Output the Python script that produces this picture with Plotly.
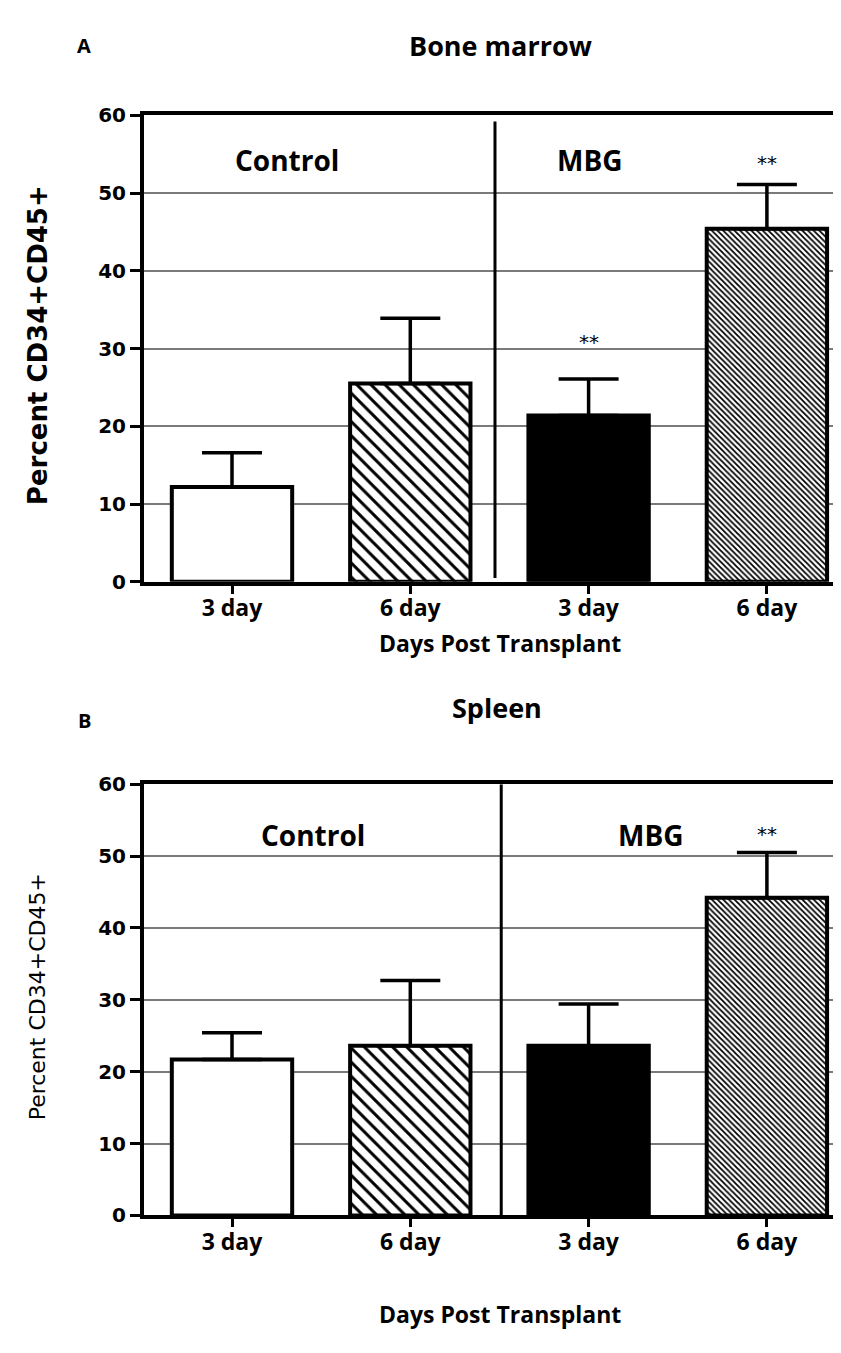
import plotly.graph_objects as go

categories = ["3 day", "6 day", "3 day", "6 day"]
positions = [0, 1, 2, 3]

bm_means = [12.2, 25.5, 21.4, 45.4]
bm_errors = [4.4, 8.4, 4.7, 5.7]

sp_means = [21.7, 23.6, 23.6, 44.2]
sp_errors = [3.7, 9.1, 5.8, 6.3]

bar_colors = ["white", "white", "black", "white"]
pattern_shapes = ["", "\\", "", "\\"]
pattern_sizes = [8, 10, 8, 4]
pattern_solid = [0.3, 0.3, 0.3, 0.45]

W, H = 841, 1353
X0 = 136
def fy(px):
    return 1 - px / H

fig = go.Figure()

def add_bars(means, errs, xa, ya):
    for i in range(len(means)):
        marker = dict(color=bar_colors[i], line=dict(color="black", width=4))
        if pattern_shapes[i]:
            marker["pattern"] = dict(shape=pattern_shapes[i], size=pattern_sizes[i],
                                     solidity=pattern_solid[i], fgcolor="black",
                                     fgopacity=1, fillmode="overlay")
        fig.add_trace(go.Bar(
            x=[positions[i]], y=[means[i]], width=0.675,
            xaxis=xa, yaxis=ya, marker=marker,
            error_y=dict(type="data", symmetric=False, array=[errs[i]],
                         arrayminus=[0], color="black",
                         thickness=3.5, width=30),
            showlegend=False, hoverinfo="skip"))

add_bars(bm_means, bm_errors, "x", "y")
add_bars(sp_means, sp_errors, "x2", "y2")

xr = [(X0 - 224) / 178.3, (W - 224) / 178.3]
xcommon = dict(range=xr, tickvals=positions, ticktext=categories,
               showline=True, linecolor="black", linewidth=4, mirror=True,
               ticks="outside", ticklen=8, tickwidth=3, tickcolor="black",
               ticklabelstandoff=-5,
               tickfont=dict(family="Open Sans", size=23, weight="bold", color="black"),
               showgrid=False, zeroline=False, fixedrange=True)
ycommon = dict(range=[0, 60], tickvals=[0, 10, 20, 30, 40, 50, 60],
               showline=True, linecolor="black", linewidth=4, mirror=False,
               ticks="outside", ticklen=10, tickwidth=3, tickcolor="black",
               tickfont=dict(family="DejaVu Sans", size=20, weight="bold", color="black"),
               showgrid=True, gridcolor="#7a7a7a", gridwidth=1.5, zeroline=False)

fig.update_layout(
    width=W, height=H, margin=dict(l=0, r=0, t=0, b=0),
    paper_bgcolor="white", plot_bgcolor="white", barmode="overlay",
    xaxis=dict(domain=[X0 / W, 1], anchor="y", **xcommon),
    yaxis=dict(domain=[fy(572), fy(97)], anchor="x", **ycommon),
    xaxis2=dict(domain=[X0 / W, 1], anchor="y2", **xcommon),
    yaxis2=dict(domain=[fy(1217), fy(778)], anchor="x2", **ycommon),
)

# group dividers
fig.add_shape(type="line", xref="x", yref="y", x0=1.475, x1=1.475, y0=59.2, y1=0.5,
              line=dict(color="black", width=3))
fig.add_shape(type="line", xref="x2", yref="y2", x0=1.51, x1=1.51, y0=60, y1=-0.9,
              line=dict(color="black", width=3))

grp_font = dict(family="Open Sans", size=28, weight="bold", color="black")
star_font = dict(family="DejaVu Sans", size=20, color="black")
ann = []
ann.append(dict(x=0.31, y=54.2, xref="x", yref="y", text="Control", showarrow=False, font=grp_font))
ann.append(dict(x=2.01, y=54.2, xref="x", yref="y", text="MBG", showarrow=False, font=grp_font))
ann.append(dict(x=2, y=30.9, xref="x", yref="y", text="**", showarrow=False, font=star_font))
ann.append(dict(x=3, y=53.8, xref="x", yref="y", text="**", showarrow=False, font=star_font))
ann.append(dict(x=0.455, y=52.9, xref="x2", yref="y2", text="Control", showarrow=False, font=grp_font))
ann.append(dict(x=2.35, y=52.9, xref="x2", yref="y2", text="MBG", showarrow=False, font=grp_font))
ann.append(dict(x=3, y=53.1, xref="x2", yref="y2", text="**", showarrow=False, font=star_font))

def paper(xpx, ypx, text, font, angle=0):
    ann.append(dict(x=xpx / W, y=fy(ypx), xref="paper", yref="paper", text=text,
                    showarrow=False, font=font, textangle=angle,
                    xanchor="center", yanchor="middle"))

title_font = dict(family="Open Sans", size=27, weight="bold", color="black")
paper(76, 26, "A", dict(family="Open Sans", size=20, weight="bold", color="black"))
paper(492, 26, "Bone marrow", title_font)
paper(76, 713, "B", dict(family="Open Sans", size=20, weight="bold", color="black"))
paper(489, 700, "Spleen", title_font)
axt_font = dict(family="Open Sans", size=23, weight="bold", color="black")
paper(492, 634, "Days Post Transplant", axt_font)
paper(492, 1317, "Days Post Transplant", axt_font)
paper(30, 331, "Percent CD34+CD45+", dict(family="DejaVu Sans", size=26, weight="bold", color="black"), -90)
paper(29, 995, "Percent CD34+CD45+", dict(family="DejaVu Sans", size=22, color="black"), -90)

fig.update_layout(annotations=ann)
fig.write_html("out.html")
